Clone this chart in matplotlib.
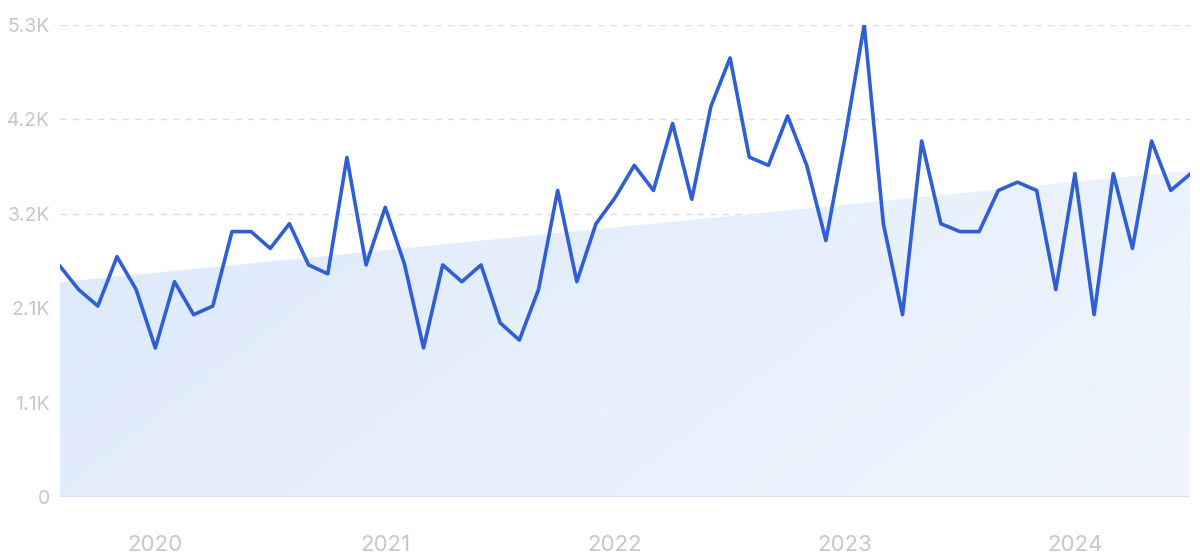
import numpy as np
import pandas as pd
import matplotlib.pyplot as plt
from matplotlib.colors import LinearSegmentedColormap

# monthly values, Aug 2019 .. Jul 2024
values = [2588, 2320, 2136, 2688, 2320, 1668, 2408, 2040, 2136, 2968,
          2968, 2780, 3056, 2596, 2496, 3796, 2596, 3240, 2608, 1668,
          2596, 2408, 2596, 1948, 1756, 2320, 3428, 2408, 3056, 3348,
          3708, 3428, 4176, 3328, 4368, 4908, 3800, 3708, 4260, 3708,
          2868, 4020, 5280, 3056, 2040, 3980, 3056, 2968, 2968, 3428,
          3520, 3428, 2320, 3616, 2040, 3616, 2780, 3980, 3428, 3608]
trend_ends = [2402, 3649]
y_ticks = [0, 1056, 2112, 3168, 4224, 5280]
y_labels = ['0', '1.1K', '2.1K', '3.2K', '4.2K', '5.3K']
years = [2020, 2021, 2022, 2023, 2024]

LINE_COLOR = '#2e5fd6'
TEXT_COLOR = '#c6c6cb'

dates = pd.date_range('2019-08-01', periods=len(values), freq='MS')
x = np.arange(len(values))
trend = np.linspace(trend_ends[0], trend_ends[1], len(values))

plt.rcParams['font.family'] = ['Inter', 'DejaVu Sans']
fig = plt.figure(figsize=(12, 5.6), dpi=100)
ax = fig.add_axes([0.0496, 0.112, 0.942, 0.844])

# trend area with a soft diagonal gradient
poly = ax.fill_between(x, 0, trend, color='none', lw=0)
cmap = LinearSegmentedColormap.from_list('bg', ['#dae7fa', '#f1f6fe'])
xx, yy = np.meshgrid(np.linspace(0, 1, 200), np.linspace(0, 1, 200))
grad = (1.3 * xx + 0.7 * yy) / 2
img = ax.imshow(grad, cmap=cmap, extent=[x[0], x[-1], 0, 5280], origin='upper',
                aspect='auto', zorder=1)
img.set_clip_path(poly.get_paths()[0], transform=ax.transData)
ax.plot([x[0], x[-1]], [0, 0], color='#cfe0f8', lw=1.2, zorder=2)

ax.plot(x, values, color=LINE_COLOR, lw=2.6, zorder=3)

ax.set_xlim(x[0], x[-1])
ax.set_ylim(0, 5280)
ax.set_yticks(y_ticks)
ax.set_yticklabels(y_labels)
ax.grid(axis='y', color='#d8dee8', linestyle=(0, (4.5, 4.5)), lw=1)
ax.set_axisbelow(True)

xt = [list(dates).index(pd.Timestamp(f'{y}-01-01')) for y in years]
ax.set_xticks(xt)
ax.set_xticklabels([str(y) for y in years])

ax.tick_params(axis='both', length=0, labelcolor=TEXT_COLOR)
ax.tick_params(axis='y', pad=7, labelsize=14)
ax.tick_params(axis='x', pad=27, labelsize=16)
for s in ax.spines.values():
    s.set_visible(False)

plt.savefig('out.png', dpi=100)
